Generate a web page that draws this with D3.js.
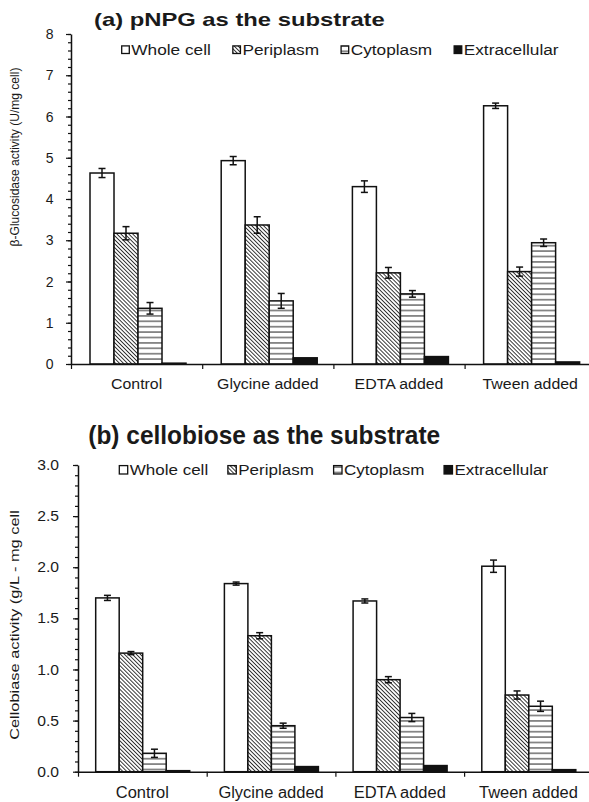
<!DOCTYPE html>
<html>
<head>
<meta charset="utf-8">
<script src="https://cdn.jsdelivr.net/npm/d3@7"></script>
<style>
  body { margin: 0; background: #fff; }
  svg { display: block; }
  text { font-family: "Liberation Sans", Arial, sans-serif; fill: #1a1a1a; }
</style>
</head>
<body>
<div id="chart"></div>
<script>
const categories = ['Control', 'Glycine added', 'EDTA added', 'Tween added']
const seriesNames = ['Whole cell', 'Periplasm', 'Cytoplasm', 'Extracellular']

// (a) pNPG as substrate, U/mg cell
const pnpgWhole = [4.63, 4.93, 4.30, 6.26]
const pnpgPeri = [3.17, 3.37, 2.21, 2.24]
const pnpgCyto = [1.35, 1.53, 1.70, 2.94]
const pnpgExtra = [0.02, 0.15, 0.18, 0.05]
const pnpgWholeErr = [0.11, 0.10, 0.14, 0.065]
const pnpgPeriErr = [0.16, 0.20, 0.13, 0.11]
const pnpgCytoErr = [0.14, 0.18, 0.08, 0.09]
const pnpgExtraErr = [0, 0, 0, 0]

// (b) cellobiose as substrate, g/L - mg cell
const cbWhole = [1.70, 1.84, 1.67, 2.01]
const cbPeri = [1.16, 1.33, 0.90, 0.75]
const cbCyto = [0.18, 0.45, 0.53, 0.64]
const cbExtra = [0.01, 0.05, 0.06, 0.02]
const cbWholeErr = [0.025, 0.015, 0.02, 0.06]
const cbPeriErr = [0.015, 0.03, 0.03, 0.04]
const cbCytoErr = [0.04, 0.025, 0.04, 0.05]
const cbExtraErr = [0, 0, 0, 0]

const W = 589, H = 802

const svg = d3.select('#chart').append('svg')
    .attr('width', W)
    .attr('height', H)
    .attr('viewBox', [0, 0, W, H])

const defs = svg.append('defs')
// diagonal hatch "\\\"
const hatch = defs.append('pattern')
    .attr('id', 'hatch')
    .attr('patternUnits', 'userSpaceOnUse')
    .attr('width', 2.8).attr('height', 2.8)
    .attr('patternTransform', 'rotate(-45)')
hatch.append('rect').attr('width', 2.8).attr('height', 2.8).attr('fill', '#fff')
hatch.append('line').attr('x1', 1.4).attr('x2', 1.4).attr('y1', 0).attr('y2', 2.8)
    .attr('stroke', '#222').attr('stroke-width', 0.9)
// horizontal lines
const hl = defs.append('pattern')
    .attr('id', 'hlines')
    .attr('patternUnits', 'userSpaceOnUse')
    .attr('width', 6).attr('height', 5.4)
hl.append('rect').attr('width', 6).attr('height', 5.4).attr('fill', '#fff')
hl.append('line').attr('x1', 0).attr('x2', 6).attr('y1', 2.7).attr('y2', 2.7)
    .attr('stroke', '#222').attr('stroke-width', 1)

const fills = ['#fff', 'url(#hatch)', 'url(#hlines)', '#111']

// text that can be stretched sideways like the source picture
function stext(parent, str, x, y, o) {
    const t = parent.append('text')
        .attr('text-anchor', o.anchor || 'start')
        .style('font-size', o.size + 'px')
        .style('font-weight', o.weight || 'normal')
        .text(str)
    if (o.dy) t.attr('dy', o.dy)
    let sx = o.sx || 1
    if (o.width) sx = o.width / t.node().getComputedTextLength()
    t.attr('transform', `translate(${x},${y})` + (o.rot ? ` rotate(${o.rot})` : '') + ` scale(${sx},1)`)
    return { node: t, w: t.node().getComputedTextLength() * sx }
}

function drawPanel(cfg, series, errs) {
    const g = svg.append('g')
    const x0 = d3.scaleBand().domain(categories)
        .range([cfg.left, cfg.left + 4 * cfg.cw]).padding(0)
    const x1 = d3.scaleBand().domain(seriesNames)
        .range([0, cfg.cw]).paddingInner(0).paddingOuter(cfg.pad).align(cfg.align)
    const xe = d3.scaleLinear().domain([0, 4]).range([cfg.left, cfg.left + 4 * cfg.cw])
    const y = d3.scaleLinear().domain([0, cfg.yMax]).range([cfg.bottom, cfg.top])

    // title
    stext(g, cfg.title, cfg.titleX, cfg.titleY, { size: cfg.titleSize, weight: 'bold', width: cfg.titleW })

    // legend
    let cur = cfg.legX
    seriesNames.forEach((s, i) => {
        g.append('rect')
            .attr('x', cur).attr('y', cfg.legY - cfg.box)
            .attr('width', cfg.box).attr('height', cfg.box)
            .attr('fill', fills[i]).attr('stroke', '#111').attr('stroke-width', 1.3)
        const t = stext(g, s, cur + cfg.box + 2, cfg.legY + 1, { size: 15, sx: cfg.legSx })
        cur += cfg.box + 2 + t.w + cfg.legGap
    })

    // bars
    const groups = g.append('g').selectAll('g')
        .data(categories)
        .join('g')
        .attr('transform', d => `translate(${x0(d)},0)`)

    groups.selectAll('rect')
        .data((d, ci) => seriesNames.map((s, si) => ({ s, si, v: series[si][ci], e: errs[si][ci] })))
        .join('rect')
        .attr('x', d => x1(d.s))
        .attr('y', d => y(d.v))
        .attr('width', x1.bandwidth())
        .attr('height', d => y(0) - y(d.v))
        .attr('fill', d => fills[d.si])
        .attr('stroke', '#111')
        .attr('stroke-width', 1.5)

    // error bars
    const eb = groups.selectAll('g.err')
        .data((d, ci) => seriesNames.map((s, si) => ({ s, v: series[si][ci], e: errs[si][ci] })).filter(d => d.e > 0))
        .join('g').attr('class', 'err')
        .attr('stroke', '#111').attr('stroke-width', 1.5)
    eb.append('line')
        .attr('x1', d => x1(d.s) + x1.bandwidth() / 2)
        .attr('x2', d => x1(d.s) + x1.bandwidth() / 2)
        .attr('y1', d => y(d.v - d.e)).attr('y2', d => y(d.v + d.e))
    ;[-1, 1].forEach(k => {
        eb.append('line')
            .attr('x1', d => x1(d.s) + x1.bandwidth() / 2 - 3.5)
            .attr('x2', d => x1(d.s) + x1.bandwidth() / 2 + 3.5)
            .attr('y1', d => y(d.v + k * d.e)).attr('y2', d => y(d.v + k * d.e))
    })

    // y axis: minor then major ticks
    const minorAx = g.append('g')
        .attr('transform', `translate(${cfg.left},0)`)
        .call(d3.axisLeft(y).tickValues(d3.range(0, cfg.yMax + 1e-9, cfg.minor)).tickSize(3).tickFormat(''))
    minorAx.select('.domain').remove()
    const majorTicks = d3.range(0, cfg.yMax + 1e-9, cfg.major)
    const yAx = g.append('g')
        .attr('transform', `translate(${cfg.left},0)`)
        .call(d3.axisLeft(y).tickValues(majorTicks).tickSize(5).tickSizeOuter(0).tickFormat(''))
    g.selectAll('.tick line').attr('stroke', '#111').attr('stroke-width', 1.2)
    yAx.select('.domain').attr('stroke', '#111').attr('stroke-width', 1.5)
    majorTicks.forEach(v => {
        stext(g, cfg.fmt(v), cfg.tickLabX, y(v), { size: 14, anchor: 'end', dy: '0.36em', sx: cfg.tickSx })
    })

    // x axis with ticks on category boundaries
    const xAx = g.append('g')
        .attr('transform', `translate(0,${cfg.bottom})`)
        .call(d3.axisBottom(xe).tickValues([0, 1, 2, 3, 4]).tickSize(5).tickSizeOuter(0).tickFormat(''))
    xAx.select('.domain').attr('stroke', '#111').attr('stroke-width', 1.5)
    xAx.selectAll('.tick line').attr('stroke', '#111').attr('stroke-width', 1.2)
    categories.forEach(c => {
        stext(g, c, x0(c) + x0.bandwidth() / 2, cfg.catY, { size: cfg.catSize, anchor: 'middle', sx: cfg.catSx })
    })

    // y label
    stext(g, cfg.yLabel, cfg.yLabX, cfg.yLabY, { size: cfg.yLabSize, anchor: 'middle', rot: -90, width: cfg.yLabW })
}

drawPanel({
    title: '(a) pNPG as the substrate', titleX: 94, titleY: 26, titleSize: 17.5, titleW: 291,
    legX: 121.7, legY: 53.5, box: 7.6, legSx: 1.15, legGap: 22,
    left: 71, top: 34, bottom: 364, cw: 131.2, pad: 0.733, align: 0.54,
    yMax: 8, major: 1, minor: 0.2, fmt: d3.format('d'), tickLabX: 53.5, tickSx: 1.0,
    catY: 389, catSize: 15, catSx: 1.06,
    yLabel: 'β-Glucosidase activity (U/mg cell)', yLabX: 19, yLabY: 157, yLabW: 179, yLabSize: 13.5
}, [pnpgWhole, pnpgPeri, pnpgCyto, pnpgExtra], [pnpgWholeErr, pnpgPeriErr, pnpgCytoErr, pnpgExtraErr])

drawPanel({
    title: '(b)  cellobiose as the substrate', titleX: 88.3, titleY: 444.3, titleSize: 25, titleW: 352,
    legX: 119.3, legY: 474, box: 8.4, legSx: 1.135, legGap: 19.7,
    left: 78, top: 465, bottom: 771.7, cw: 128.7, pad: 0.738, align: 0.51,
    yMax: 3, major: 0.5, minor: 0.1, fmt: d3.format('.1f'), tickLabX: 59, tickSx: 1.12,
    catY: 798, catSize: 16, catSx: 1.03,
    yLabel: 'Cellobiase activity (g/L - mg cell', yLabX: 18.5, yLabY: 625, yLabW: 230, yLabSize: 13
}, [cbWhole, cbPeri, cbCyto, cbExtra], [cbWholeErr, cbPeriErr, cbCytoErr, cbExtraErr])
</script>
</body>
</html>
